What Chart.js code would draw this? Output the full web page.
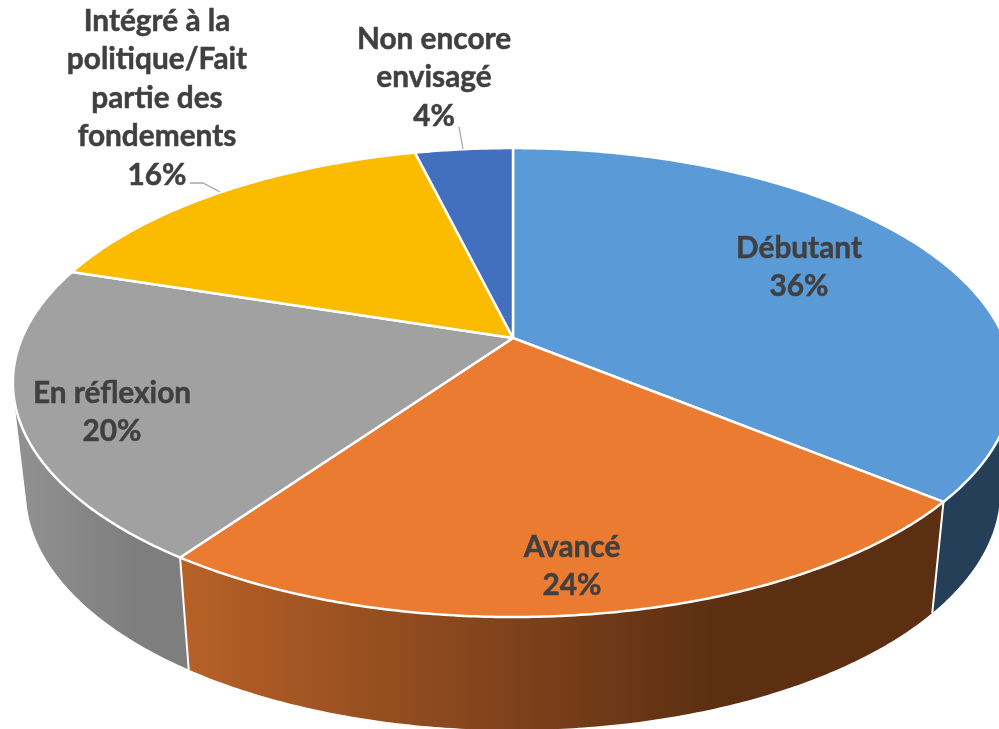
<!DOCTYPE html>
<html><head><meta charset="utf-8">
<style>html,body{margin:0;padding:0;background:#fff;overflow:hidden}canvas{display:block}</style>
<script src="https://cdn.jsdelivr.net/npm/chart.js@4"></script>
</head><body><canvas id="c" width="999" height="729"></canvas>
<script>
const categories = ["Débutant","Avancé","En réflexion","Intégré à la politique/Fait partie des fondements","Non encore envisagé"];
const shares = [36,23.7,20.3,16.2,3.8];
const labelLines = [["Débutant"],["Avancé"],["En réflexion"],["Intégré à la","politique/Fait","partie des","fondements"],["Non encore","envisagé"]];
const topColors = ["#5A9AD6","#EB7B30","#A1A1A1","#FBBC00","#4270BF"];
const sideColors = [["#243F57","#243F57"],["#B86127","#5C2F13"],["#929292","#7E7E7E"],["#A07800","#A07800"],["#2A4678","#2A4678"]];

// Perspective of the pie's top face (Office-style 3D view)
const VIEW = {cx:513, cy:338, kx:491, ky:226, persp:-0.19, shrink:0.974, depth:108, depthV:5};
function project(a){
  const u=Math.cos(a), v=Math.sin(a), w=1+VIEW.persp*v;
  return {x:VIEW.cx+VIEW.kx*u/w, y:VIEW.cy+VIEW.ky*v/w, v};
}
function projectLow(a){
  const p=project(a);
  return {x:VIEW.cx+(p.x-VIEW.cx)*VIEW.shrink, y:p.y+VIEW.depth+VIEW.depthV*p.v};
}
const STEP=Math.PI/360;
function addQuad(ctx,q){
  let area=0;
  q.forEach((p,i)=>{const n=q[(i+1)%4];area+=p.x*n.y-n.x*p.y;});
  const pts=area<0?q.slice().reverse():q;
  pts.forEach((p,i)=>i?ctx.lineTo(p.x,p.y):ctx.moveTo(p.x,p.y));
  ctx.closePath();
}
class Arc3D extends Chart.ArcElement{
  draw(ctx){
    const {startAngle:s,endAngle:e}=this;
    ctx.save();
    ctx.beginPath();
    ctx.moveTo(VIEW.cx,VIEW.cy);
    for(let a=s;a<e;a+=STEP){const p=project(a);ctx.lineTo(p.x,p.y);}
    const q=project(e);ctx.lineTo(q.x,q.y);
    ctx.closePath();
    ctx.fillStyle=this.options.backgroundColor;ctx.fill();
    ctx.strokeStyle='#fff';ctx.lineWidth=2.5;ctx.lineJoin='round';ctx.stroke();
    ctx.restore();
  }
  drawSide(ctx,cols){
    const a0=Math.max(this.startAngle,-0.4), a1=Math.min(this.endAngle,Math.PI+0.4);
    if(a1<=a0)return;
    const xs=[];
    ctx.save();
    ctx.beginPath();
    for(let a=a0;a<a1;a+=STEP){
      const b=Math.min(a+STEP,a1);
      const q=[project(a),project(b),projectLow(b),projectLow(a)];
      q.forEach(p=>xs.push(p.x));
      addQuad(ctx,q);
    }
    const g=ctx.createLinearGradient(Math.min(...xs),0,Math.max(...xs),0);
    g.addColorStop(0,cols[0]);g.addColorStop(0.7,cols[1]);g.addColorStop(1,cols[1]);
    ctx.fillStyle=g;ctx.fill('nonzero');
    ctx.restore();
  }
  drawEdge(ctx){
    const a=this.endAngle;
    if(Math.sin(a)<0)return;
    const p=project(a),l=projectLow(a);
    ctx.save();ctx.strokeStyle='#fff';ctx.lineWidth=2;
    ctx.beginPath();ctx.moveTo(p.x,p.y);ctx.lineTo(l.x,l.y);ctx.stroke();ctx.restore();
  }
}
Arc3D.id='arc3d';
Arc3D.defaults=Chart.ArcElement.defaults;
Arc3D.defaultRoutes=Chart.ArcElement.defaultRoutes;
class Pie3D extends Chart.PieController{
  draw(){
    const ctx=this.chart.ctx, arcs=this._cachedMeta.data;
    arcs.forEach((el,i)=>el.drawSide(ctx,sideColors[i]));
    arcs.forEach(el=>el.drawEdge(ctx));
    super.draw();
  }
}
Pie3D.id='pie3d';
Pie3D.defaults={dataElementType:'arc3d'};
Chart.register(Arc3D,Pie3D);

// Label centres (x, y of the first line)
const labelAnchors=[[799,248],[572,547],[112,393],[157,21],[434,39]];
const LINE=38.6;
const labelPlugin={id:'pieLabels',afterDatasetsDraw(chart){
  const ctx=chart.ctx;
  ctx.save();
  ctx.strokeStyle='#A6A6A6';ctx.lineWidth=1.3;
  ctx.beginPath();ctx.moveTo(190,183);ctx.lineTo(203,183);ctx.lineTo(220,192);ctx.stroke();
  ctx.beginPath();ctx.moveTo(459,127);ctx.lineTo(463,149);ctx.stroke();
  ctx.fillStyle='#404040';ctx.strokeStyle='#404040';ctx.lineWidth=0.5;
  ctx.font='bold 29.8px Lato, "Open Sans", sans-serif';
  ctx.textAlign='center';ctx.textBaseline='middle';
  labelLines.forEach((lines,i)=>{
    const [x,y]=labelAnchors[i];
    lines.concat(Math.round(shares[i])+'%').forEach((t,k)=>{
      ctx.fillText(t,x,y+k*LINE);ctx.strokeText(t,x,y+k*LINE);
    });
  });
  ctx.restore();
}};
new Chart(document.getElementById('c'),{
  type:'pie3d',
  data:{labels:categories,datasets:[{data:shares,backgroundColor:topColors}]},
  options:{responsive:false,animation:false,
    plugins:{legend:{display:false},tooltip:{enabled:false}}},
  plugins:[labelPlugin]
});
</script></body></html>
